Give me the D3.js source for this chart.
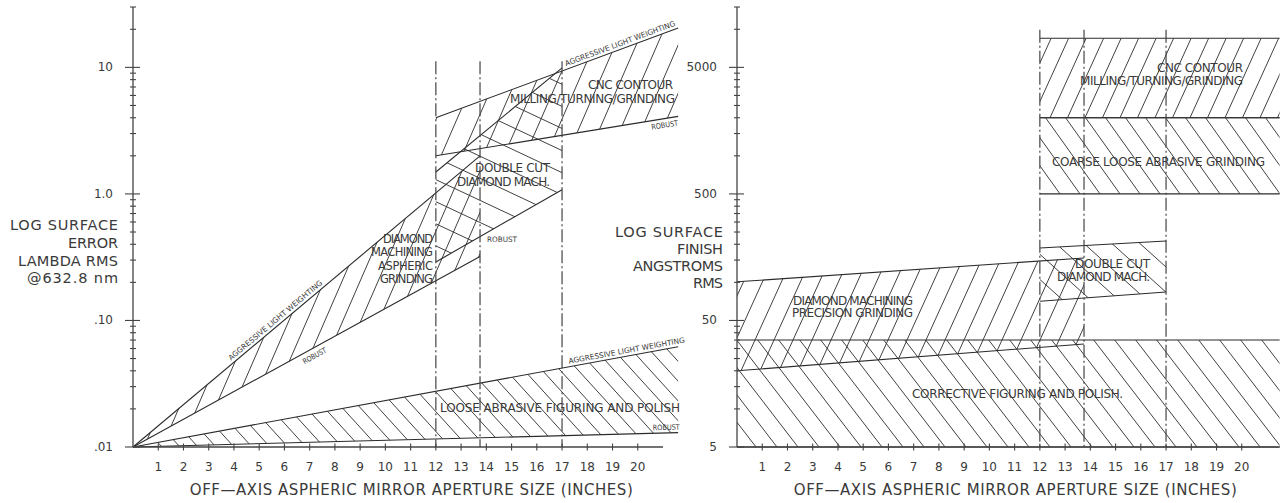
<!DOCTYPE html>
<html>
<head>
<meta charset="utf-8">
<script src="https://cdn.jsdelivr.net/npm/d3@7"></script>
<style>
  body { margin: 0; background: #fff; }
  svg text { font-family: "DejaVu Sans", sans-serif; fill: #3a3a3a; }
</style>
</head>
<body>
<svg id="chart" width="1284" height="503"></svg>
<script>
// aperture axis (inches) and process size limits
const apertureTicks = [1, 2, 3, 4, 5, 6, 7, 8, 9, 10, 11, 12, 13, 14, 15, 16, 17, 18, 19, 20]
const processLimits = [12, 13.75, 17]

// left: log surface error, lambda rms
const errorDecades = [0.01, 0.1, 1, 10]
const errorLabels = [".01", ".10", "1.0", "10"]
const looseUpper = [[0, 0.01], [21.6, 0.062]]
const looseLower = [[0, 0.01], [21.6, 0.013]]
const diamondUpper = [[0, 0.01], [13.75, 2.0]]
const diamondLower = [[0, 0.01], [13.75, 0.32]]
const doubleCutUpper = [[12, 1.49], [17, 9.9]]
const doubleCutLower = [[12, 0.29], [17, 1.08]]
const cncUpper = [[12, 4.0], [21.6, 20.5]]
const cncLower = [[12, 2.0], [21.6, 4.1]]

// right: log surface finish, angstroms rms
const finishDecades = [5, 50, 500, 5000]
const finishLabels = ["5", "50", "500", "5000"]
const correctiveUpper = [[0, 35], [21.5, 35]]
const correctiveLower = [[0, 5], [21.5, 5]]
const precisionUpper = [[0, 101], [13.75, 156]]
const precisionLower = [[0, 20], [13.75, 32.6]]
const doubleFinishUpper = [[12, 187], [17, 212]]
const doubleFinishLower = [[12, 71], [17, 84]]
const coarseUpper = [[12, 2000], [21.5, 2000]]
const coarseLower = [[12, 500], [21.5, 500]]
const cncFinishUpper = [[12, 8500], [21.5, 8500]]
const cncFinishLower = [[12, 2000], [21.5, 2000]]

const svg = d3.select("#chart")
const defs = svg.append("defs")

const xErr = d3.scaleLinear().domain([0, 21]).range([133, 663])
const yErr = d3.scaleLog().domain([0.01, 30]).range([447, 7])
const xFin = d3.scaleLinear().domain([0, 21]).range([737, 1267])
const yFin = d3.scaleLog().domain([5, 15000]).range([447, 7])

const ink = "#2b2b2b"
let clipCount = 0

// hatched band between two lines; slope > 0 is "/", slope < 0 is "\"
function band(g, x, y, upper, lower, slope, step) {
  const top = upper.map((d) => [x(d[0]), y(d[1])])
  const bottom = lower.map((d) => [x(d[0]), y(d[1])])
  const poly = top.concat(bottom.slice().reverse())
  const id = "band" + clipCount++
  defs.append("clipPath").attr("id", id)
    .append("polygon").attr("points", poly.join(" "))

  const xs = poly.map((p) => p[0]), ys = poly.map((p) => p[1])
  const x0 = d3.min(xs), x1 = d3.max(xs), y0 = d3.min(ys), y1 = d3.max(ys)
  const run = (y1 - y0) / slope
  const starts = d3.range(
    Math.floor((x0 - Math.abs(run)) / step) * step,
    x1 + Math.abs(run) + step,
    step
  )
  g.append("g")
    .attr("clip-path", `url(#${id})`)
    .selectAll("line")
    .data(starts)
    .join("line")
    .attr("x1", (c) => c).attr("y1", y1)
    .attr("x2", (c) => c + run).attr("y2", y0)
    .attr("stroke", ink).attr("stroke-width", 0.9)

  const line = d3.line().x((d) => x(d[0])).y((d) => y(d[1]))
  g.selectAll(null).data([upper, lower]).join("path")
    .attr("d", line).attr("fill", "none")
    .attr("stroke", ink).attr("stroke-width", 1.1)
}

function limits(g, x, y, top) {
  g.selectAll(null).data(processLimits).join("line")
    .attr("x1", (d) => x(d)).attr("x2", (d) => x(d))
    .attr("y1", y(top)).attr("y2", y.range()[0])
    .attr("stroke", "#444").attr("stroke-width", 1.2)
    .attr("stroke-dasharray", "13,3,2,3")
}

function axes(g, x, y, decades, labels, xEnd) {
  const [vMin, vMax] = y.domain()
  const minor = []
  decades.forEach((b) => {
    for (let k = 1; k <= 9; k++) if (b * k <= vMax * 1.0001) minor.push({ v: b * k, major: k === 1 })
  })
  const x0 = x(0)
  g.append("line").attr("x1", x0).attr("x2", x0).attr("y1", y(vMax)).attr("y2", y(vMin))
    .attr("stroke", "#444").attr("stroke-width", 1.3)
  g.append("line").attr("x1", x0).attr("x2", x(xEnd)).attr("y1", y(vMin)).attr("y2", y(vMin))
    .attr("stroke", "#444").attr("stroke-width", 1.3)
  g.selectAll(null).data(minor).join("line")
    .attr("x1", (d) => x0 - (d.major ? 8 : 3)).attr("x2", (d) => x0 + (d.major ? 7 : 3))
    .attr("y1", (d) => y(d.v)).attr("y2", (d) => y(d.v))
    .attr("stroke", "#444").attr("stroke-width", 1.1)
  g.selectAll(null).data(decades).join("text")
    .attr("x", x0 - 20).attr("y", (d) => y(d))
    .attr("text-anchor", "end").attr("dominant-baseline", "central")
    .attr("font-size", 12).text((d, i) => labels[i])
  g.selectAll(null).data(apertureTicks).join("line")
    .attr("x1", (d) => x(d)).attr("x2", (d) => x(d))
    .attr("y1", y(vMin) - 3.5).attr("y2", y(vMin) + 3.5)
    .attr("stroke", "#444").attr("stroke-width", 1.1)
  g.selectAll(null).data(apertureTicks).join("text")
    .attr("x", (d) => x(d)).attr("y", 467)
    .attr("text-anchor", "middle").attr("dominant-baseline", "central")
    .attr("font-size", 12).text((d) => d)
  g.append("text").attr("x", x(2.25)).attr("y", 490)
    .attr("dominant-baseline", "central").attr("font-size", 15)
    .attr("textLength", 443).attr("lengthAdjust", "spacing")
    .text("OFF\u2014AXIS ASPHERIC MIRROR APERTURE SIZE (INCHES)")
}

function lineLabel(g, x, y, pts, atX, text, len, dy) {
  const a = [x(pts[0][0]), y(pts[0][1])], b = [x(pts[1][0]), y(pts[1][1])]
  const ang = Math.atan2(b[1] - a[1], b[0] - a[0]) * 180 / Math.PI
  const t = (x(atX) - a[0]) / (b[0] - a[0])
  const px = a[0] + t * (b[0] - a[0]), py = a[1] + t * (b[1] - a[1])
  g.append("text").attr("transform", `translate(${px},${py}) rotate(${ang})`)
    .attr("y", dy).attr("font-size", 7.5)
    .attr("textLength", len).attr("lengthAdjust", "spacingAndGlyphs").text(text)
}

function labels(g, rows, size) {
  g.selectAll(null).data(rows).join("text")
    .attr("x", (d) => d[1]).attr("y", (d) => d[2])
    .attr("text-anchor", (d) => d[3]).attr("dominant-baseline", "central")
    .attr("font-size", size)
    .attr("textLength", (d) => d[4]).attr("lengthAdjust", "spacing")
    .text((d) => d[0])
}

// left chart
const left = svg.append("g")
band(left, xErr, yErr, looseUpper, looseLower, -1.1, 18)
band(left, xErr, yErr, diamondUpper, diamondLower, 2.3, 18)
band(left, xErr, yErr, doubleCutUpper, doubleCutLower, -0.47, 47)
band(left, xErr, yErr, cncUpper, cncLower, 2.3, 21)
limits(left, xErr, yErr, 11.2)
axes(left, xErr, yErr, errorDecades, errorLabels, 21)

lineLabel(left, xErr, yErr, diamondUpper, 3.96, "AGGRESSIVE LIGHT WEIGHTING", 120, -3)
lineLabel(left, xErr, yErr, diamondLower, 6.6, "ROBUST", 26, 10)
lineLabel(left, xErr, yErr, cncUpper, 17.2, "AGGRESSIVE LIGHT WEIGHTING", 117, -3)
lineLabel(left, xErr, yErr, cncLower, 20.5, "ROBUST", 27, 9)
lineLabel(left, xErr, yErr, looseUpper, 17.3, "AGGRESSIVE LIGHT WEIGHTING", 118, -3)
lineLabel(left, xErr, yErr, looseLower, 20.6, "ROBUST", 27, -3)
left.append("text").attr("x", 487).attr("y", 242).attr("font-size", 7.5)
  .attr("textLength", 30).attr("lengthAdjust", "spacingAndGlyphs").text("ROBUST")

labels(left, [
  ["LOG SURFACE", 118, 225, "end", 108],
  ["ERROR", 118, 243, "end", 50],
  ["LAMBDA RMS", 118, 260.5, "end", 100],
  ["@632.8 nm", 118, 278, "end", 91]
], 14.5)
labels(left, [
  ["CNC CONTOUR", 673, 85, "end", 85],
  ["MILLING/TURNING/GRINDING", 675, 99, "end", 165],
  ["DOUBLE CUT", 550, 168, "end", 75],
  ["DIAMOND MACH.", 550, 182, "end", 93],
  ["LOOSE ABRASIVE FIGURING AND POLISH", 440, 408, "start", 240]
], 12)
labels(left, [
  ["DIAMOND", 433, 239, "end", 50],
  ["MACHINING", 433, 252, "end", 62],
  ["ASPHERIC", 433, 265.5, "end", 55],
  ["GRINDING", 433, 279, "end", 53]
], 11.5)

// right chart
const right = svg.append("g")
band(right, xFin, yFin, correctiveUpper, correctiveLower, -1.3, 21)
band(right, xFin, yFin, precisionUpper, precisionLower, 2.2, 19)
band(right, xFin, yFin, doubleFinishUpper, doubleFinishLower, -0.9, 28)
band(right, xFin, yFin, coarseUpper, coarseLower, -1.4, 20)
band(right, xFin, yFin, cncFinishUpper, cncFinishLower, 2.2, 17.5)
limits(right, xFin, yFin, 9900)
axes(right, xFin, yFin, finishDecades, finishLabels, 21.5)

labels(right, [
  ["LOG SURFACE", 723, 232, "end", 108],
  ["FINISH", 723, 249, "end", 46],
  ["ANGSTROMS", 723, 266, "end", 90],
  ["RMS", 723, 283, "end", 30]
], 14.5)
labels(right, [
  ["CNC CONTOUR", 1243, 68, "end", 86],
  ["MILLING/TURNING/GRINDING", 1243, 81, "end", 163],
  ["COARSE LOOSE ABRASIVE GRINDING", 1052, 162, "start", 213],
  ["DOUBLE CUT", 1150, 264, "end", 75],
  ["DIAMOND MACH.", 1150, 277, "end", 93],
  ["DIAMOND MACHINING", 793, 301, "start", 120],
  ["PRECISION GRINDING", 792, 313, "start", 121],
  ["CORRECTIVE FIGURING AND POLISH.", 912, 394, "start", 211]
], 12)
</script>
</body>
</html>
